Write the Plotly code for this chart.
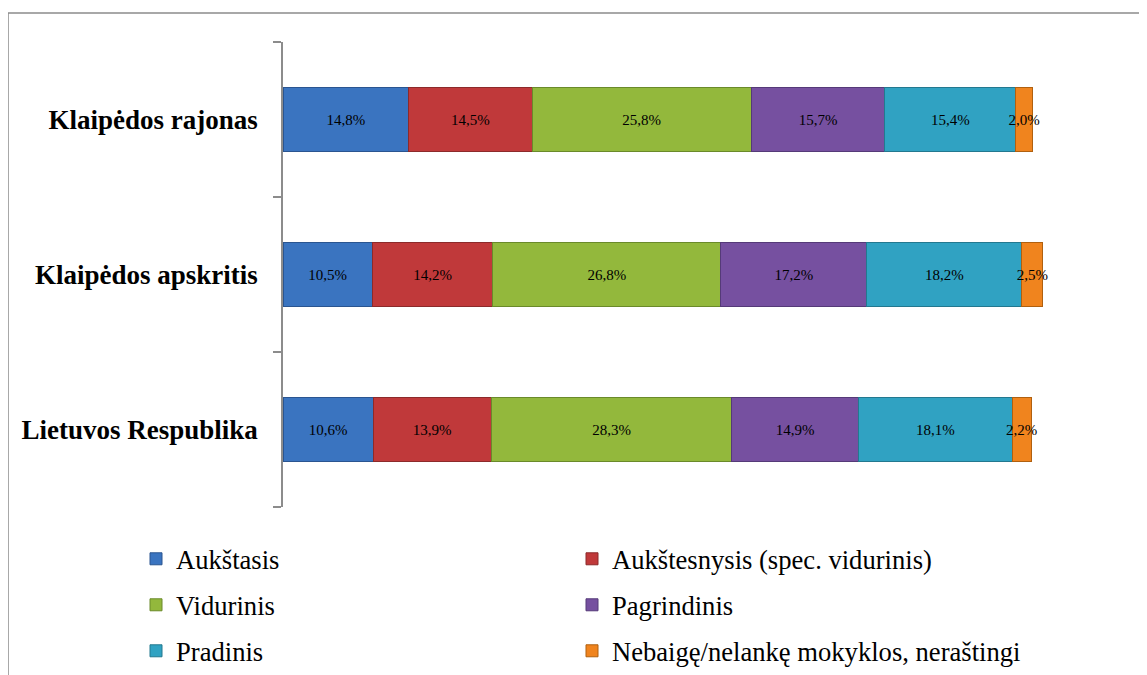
import plotly.graph_objects as go

categories = ["Lietuvos Respublika", "Klaipėdos apskritis", "Klaipėdos rajonas"]
series_names = [
    "Aukštasis",
    "Aukštesnysis (spec. vidurinis)",
    "Vidurinis",
    "Pagrindinis",
    "Pradinis",
    "Nebaigę/nelankę mokyklos, neraštingi",
]
aukstasis = [10.6, 10.5, 14.8]
aukstesnysis = [13.9, 14.2, 14.5]
vidurinis = [28.3, 26.8, 25.8]
pagrindinis = [14.9, 17.2, 15.7]
pradinis = [18.1, 18.2, 15.4]
nebaige = [2.2, 2.5, 2.0]

series_values = [aukstasis, aukstesnysis, vidurinis, pagrindinis, pradinis, nebaige]
colors = ["#3A74C0", "#C0393A", "#93B83C", "#7650A0", "#30A2C2", "#F0841E"]
edge_colors = ["#2A5590", "#8C2A2A", "#6A8A2A", "#553A78", "#23788F", "#B0600F"]

FONT = "Liberation Serif"

fig = go.Figure()
legend_ids = ["legend" if i == 0 else f"legend{i + 1}" for i in range(len(series_names))]
for name, vals, col, ecol, lg in zip(series_names, series_values, colors, edge_colors, legend_ids):
    fig.add_trace(go.Bar(
        y=categories,
        x=vals,
        name=name,
        orientation="h",
        width=0.41,
        marker=dict(color=col, line=dict(color=ecol, width=1)),
        text=[f"{v:.1f}%".replace(".", ",") for v in vals],
        textposition="inside",
        insidetextanchor="middle",
        textangle=0,
        constraintext="none",
        textfont=dict(family=FONT, size=15, color="black"),
        cliponaxis=False,
        legend=lg,
        hoverinfo="skip",
    ))

# page offset of 8px (body margin) is subtracted from the reference pixel targets
OFF = 8
W, H = 1147, 675
ml, mt = 283 - OFF, 42 - OFF
pw = 850
ph = 465
mr = W - ml - pw
mb = H - mt - ph

def px_x(x):
    return (x - OFF - ml) / pw

def px_y(y):
    return (mt + ph - (y - OFF)) / ph

legend_cols = [136, 572]
legend_rows = [559, 605, 651]

legends = {}
for i, lg in enumerate(legend_ids):
    legends[lg] = dict(
        orientation="v",
        xanchor="left",
        yanchor="middle",
        x=px_x(legend_cols[i % 2]),
        y=px_y(legend_rows[i // 2]),
        font=dict(family=FONT, size=26.6, color="black"),
        bgcolor="rgba(0,0,0,0)",
        itemwidth=30,
        itemclick=False,
        itemdoubleclick=False,
    )

fig.update_layout(
    width=W,
    height=H,
    margin=dict(l=ml, r=mr, t=mt, b=mb, autoexpand=False),
    paper_bgcolor="white",
    plot_bgcolor="white",
    font=dict(family=FONT, color="black"),
    barmode="stack",
    showlegend=True,
    **legends,
    xaxis=dict(range=[0, 100], visible=False, fixedrange=True),
    yaxis=dict(
        categoryorder="array",
        categoryarray=categories,
        range=[-0.5, 2.5],
        showline=True,
        linecolor="#8C8C8C",
        linewidth=1.5,
        ticks="outside",
        tickson="boundaries",
        ticklen=8,
        tickwidth=1.5,
        tickcolor="#8C8C8C",
        ticklabelstandoff=18,
        showgrid=False,
        tickfont=dict(family=FONT, size=27, color="black", weight="bold"),
        fixedrange=True,
    ),
    shapes=[
        dict(type="rect", xref="paper", yref="paper",
             x0=px_x(8), x1=px_x(1170), y0=px_y(700), y1=px_y(13),
             line=dict(color="#8C8C8C", width=1.5), fillcolor="rgba(0,0,0,0)", layer="below"),
    ],
)

fig.write_html("out.html")
